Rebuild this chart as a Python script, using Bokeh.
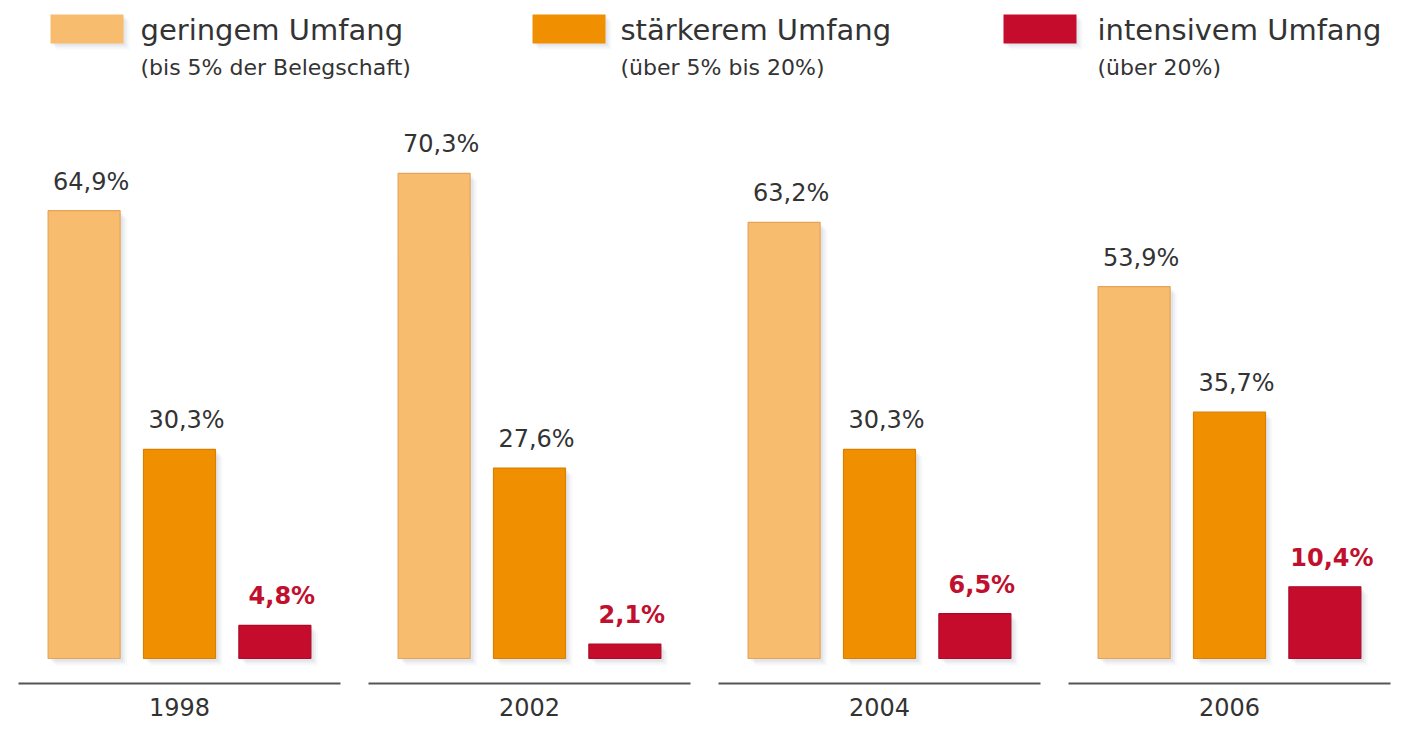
from bokeh.plotting import figure
from bokeh.models import Range1d, ColumnDataSource
from bokeh.core.properties import value
from bokeh.embed import file_html
from bokeh.resources import INLINE

# ---- data ----
years = ["1998", "2002", "2004", "2006"]
series = ["geringem Umfang", "stärkerem Umfang", "intensivem Umfang"]
subtitles = ["(bis 5% der Belegschaft)", "(über 5% bis 20%)", "(über 20%)"]
gering = [64.9, 70.3, 63.2, 53.9]
staerker = [30.3, 27.6, 30.3, 35.7]
intensiv = [4.8, 2.1, 6.5, 10.4]

colors = ["#F8BC6E", "#F09000", "#C60C2D"]
edge = ["#E3A458", "#DA8000", "#AC0A26"]
label_colors = ["#333333", "#333333", "#C0102E"]
label_styles = ["normal", "normal", "bold"]
FONT = "DejaVu Sans"

W, H = 1394, 722
GX = 350.0      # px per group
PY = 6.9        # px per percent
x0 = -179 / GX
y0 = -(H - 658) / PY
x_range = Range1d(x0, x0 + W / GX)
y_range = Range1d(y0, y0 + H / PY)

def dx(px):  # canvas px -> data x
    return x0 + px / GX
def dy(py):  # canvas px (from top) -> data y
    return y0 + (H - py) / PY

p = figure(width=W, height=H, x_range=x_range, y_range=y_range,
           output_backend="svg", toolbar_location=None, min_border=0)
p.axis.visible = False
p.grid.visible = False
p.outline_line_color = None
p.background_fill_color = "white"
p.border_fill_color = "white"

offsets = [-0.2725, 0.0, 0.2725]
bw = 72 / GX
vals = [gering, staerker, intensiv]

for s, (vs, off) in enumerate(zip(vals, offsets)):
    xs = [i + off for i in range(len(years))]
    src = ColumnDataSource(dict(x=xs, top=vs, lab=[f"{v:.1f}%".replace(".", ",") for v in vs]))
    # soft shadow
    for k, a in [(7, 0.04), (5, 0.06), (3, 0.08)]:
        p.vbar(x=[x + k / GX for x in xs], top=[v - k / PY for v in vs],
               bottom=-k / PY, width=bw, fill_color="#5a6a80", fill_alpha=a, line_color=None)
    p.vbar(x="x", top="top", bottom=0, width=bw, source=src,
           fill_color=colors[s], line_color=edge[s], line_width=1.2)
    p.text(x="x", y="top", text="lab", source=src, x_offset=7, y_offset=-29,
           text_align="center", text_baseline="middle",
           text_font=value(FONT), text_font_size="24px",
           text_font_style=label_styles[s], text_color=label_colors[s])

# baselines and year labels
gx = list(range(len(years)))
p.segment(x0=[g - 0.46 for g in gx], x1=[g + 0.46 for g in gx],
          y0=[dy(683)] * 4, y1=[dy(683)] * 4, line_color="#555555", line_width=2)
p.text(x=gx, y=[dy(706)] * 4, text=years, text_align="center", text_baseline="middle",
       text_font=value(FONT), text_font_size="24px", text_color="#333333")

# legend
sw_left = [50, 532, 1003]
txt_left = [140, 620, 1097]
for i in range(3):
    for k, a in [(6, 0.04), (4, 0.06), (2, 0.08)]:
        p.quad(left=dx(sw_left[i] + k), right=dx(sw_left[i] + 73 + k),
               top=dy(14 + k), bottom=dy(43 + k), fill_color="#5a6a80", fill_alpha=a, line_color=None)
    p.quad(left=dx(sw_left[i]), right=dx(sw_left[i] + 73), top=dy(14), bottom=dy(43),
           fill_color=colors[i], line_color=None)
    p.text(x=[dx(txt_left[i])], y=[dy(29)], text=[series[i]], text_align="left",
           text_baseline="middle", text_font=value(FONT), text_font_size="29px",
           text_color="#333333")
    p.text(x=[dx(txt_left[i])], y=[dy(67)], text=[subtitles[i]], text_align="left",
           text_baseline="middle", text_font=value(FONT), text_font_size="22px",
           text_color="#333333")

open("out.html", "w").write(file_html(p, INLINE))
